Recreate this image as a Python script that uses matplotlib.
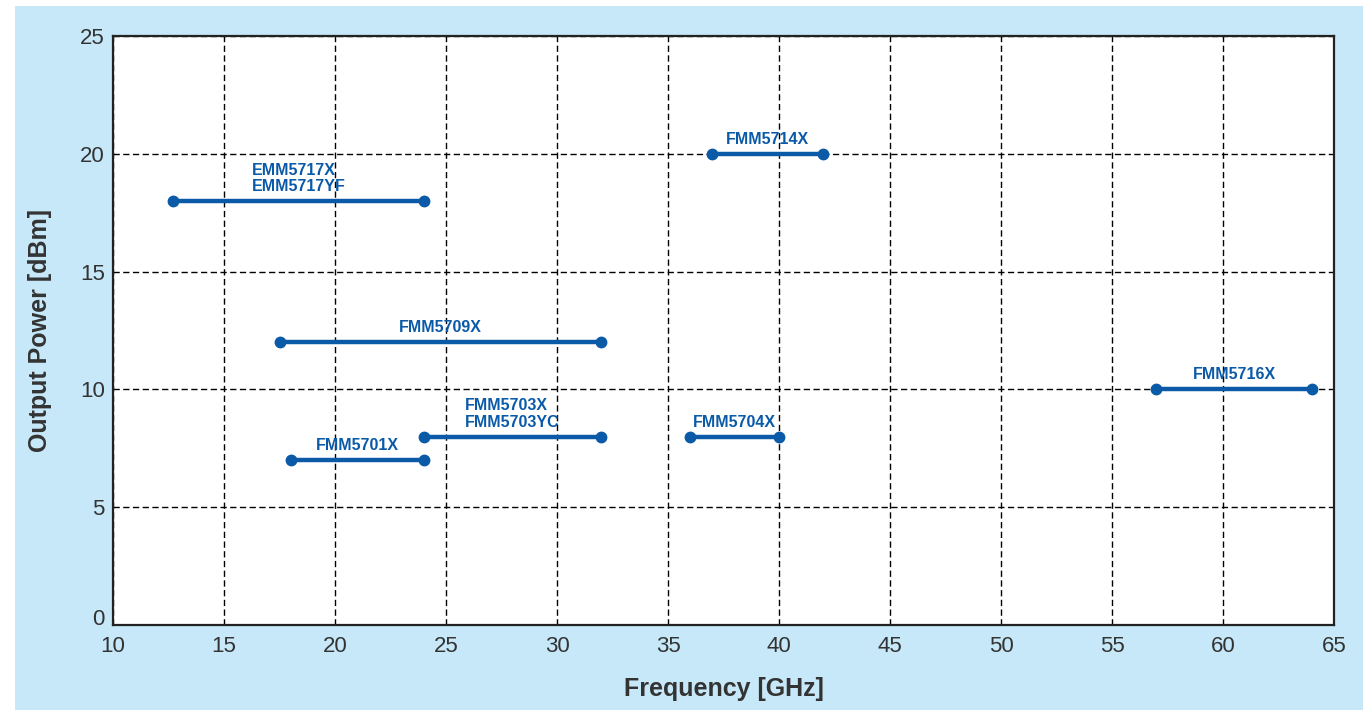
import matplotlib
matplotlib.use('Agg')
import matplotlib.pyplot as plt
from matplotlib.patches import Rectangle

# product ranges
names = ['EMM5717X\nEMM5717YF', 'FMM5714X', 'FMM5709X', 'FMM5716X',
         'FMM5703X\nFMM5703YC', 'FMM5704X', 'FMM5701X']
f_start = [12.7, 37, 17.5, 57, 24, 36, 18]
f_stop = [24, 42, 32, 64, 32, 40, 24]
power = [18, 20, 12, 10, 8, 8, 7]

x_ticks = [10, 15, 20, 25, 30, 35, 40, 45, 50, 55, 60, 65]
y_ticks = [0, 5, 10, 15, 20, 25]

blue = '#0a5aa8'
plt.rcParams['font.family'] = ['Liberation Sans', 'DejaVu Sans']

fig = plt.figure(figsize=(13.63, 7.10), dpi=100)
fig.patch.set_facecolor('white')
fig.add_artist(Rectangle((15 / 1363, 0), 1 - 15 / 1363, 704 / 710,
                         transform=fig.transFigure, facecolor='#c6e8f8',
                         edgecolor='none', zorder=-5))

ax = fig.add_axes([113 / 1363, 1 - 625 / 710, 1221 / 1363, 589 / 710])
ax.set_facecolor('white')

for name, x0, x1, p in zip(names, f_start, f_stop, power):
    ax.plot([x0, x1], [p, p], color=blue, lw=3.2, marker='o', ms=7.5,
            solid_capstyle='butt', zorder=3)
    ax.annotate(name, xy=((x0 + x1) / 2, p), xytext=(0, 5),
                textcoords='offset points', ha='center', va='bottom',
                multialignment='left', color=blue, fontsize=11.5,
                fontweight='bold', linespacing=1.12, zorder=4)

ax.set_xlim(10, 65)
ax.set_ylim(0, 25)
ax.set_xticks(x_ticks)
ax.set_yticks(y_ticks)
ax.grid(True, color='black', linestyle=(0, (4.5, 2.5)), linewidth=1.0)
ax.set_axisbelow(True)
for s in ax.spines.values():
    s.set_linewidth(1.6)
    s.set_color('#222222')
ax.tick_params(length=0, labelsize=16, colors='#333333')
ax.tick_params(axis='x', pad=8)
ax.tick_params(axis='y', pad=6)
ax.get_yticklabels()[0].set_verticalalignment('baseline')

ax.set_xlabel('Frequency [GHz]', fontsize=18, fontweight='bold',
              color='#333333', labelpad=14)
ax.set_ylabel('Output Power [dBm]', fontsize=18, fontweight='bold',
              color='#333333', labelpad=20)

fig.savefig('out.png', dpi=100, facecolor=fig.get_facecolor())
